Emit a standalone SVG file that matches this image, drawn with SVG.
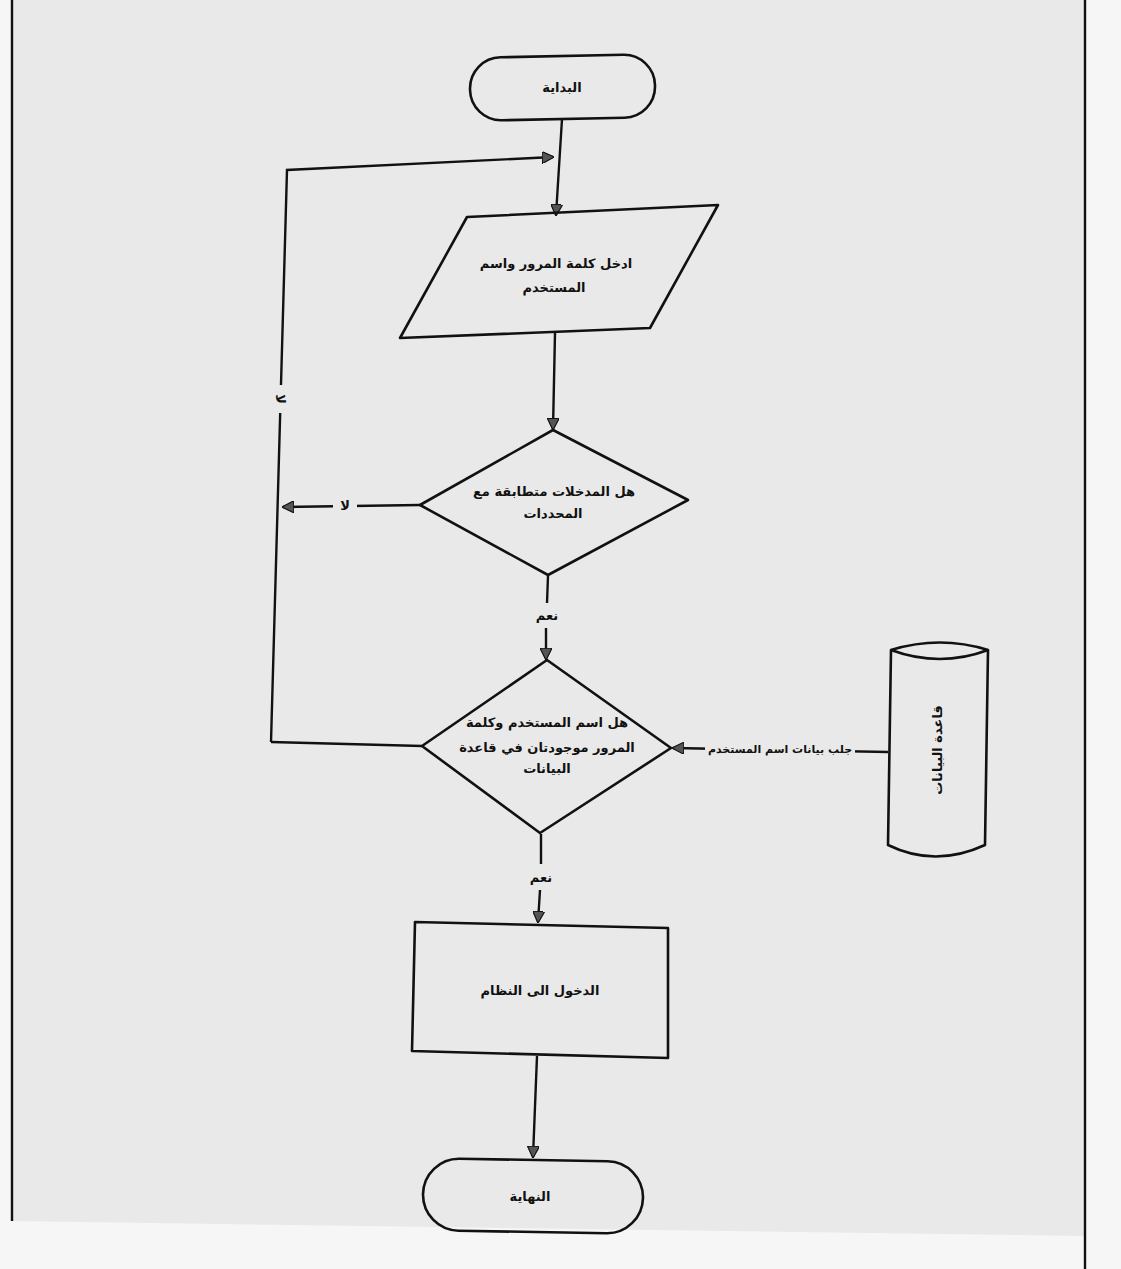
<svg xmlns="http://www.w3.org/2000/svg" width="1121" height="1269" viewBox="0 0 1121 1269">
<style>
.shape{fill:none;stroke:#111;stroke-width:2.6;stroke-linejoin:round}
.conn{fill:none;stroke:#111;stroke-width:2.4}
.t{font-family:"DejaVu Sans",sans-serif;font-weight:bold;font-size:13px;fill:#111;text-anchor:middle;direction:rtl}
</style>
<defs>
<marker id="ah" viewBox="0 0 10 10" refX="9" refY="5" markerWidth="5" markerHeight="5" orient="auto" markerUnits="strokeWidth">
<path d="M0,0 L10,5 L0,10 z" fill="#555" stroke="#111" stroke-width="1"/>
</marker>
</defs>
<rect x="0" y="0" width="1121" height="1269" fill="#f6f6f6"/>
<polygon points="12,0 1085,0 1085,1236 12,1221" fill="#e9e9e9"/>
<line x1="12" y1="0" x2="12" y2="1221" stroke="#111" stroke-width="2.4"/>
<line x1="1085" y1="0" x2="1085" y2="1269" stroke="#111" stroke-width="2.4"/>

<g id="connectors">
<line class="conn" x1="562" y1="119" x2="556" y2="215" marker-end="url(#ah)"/>
<polyline class="conn" points="271,742 287,170 553,157" marker-end="url(#ah)"/>
<line class="conn" x1="555" y1="333" x2="553" y2="429" marker-end="url(#ah)"/>
<line class="conn" x1="420" y1="505" x2="283" y2="507" marker-end="url(#ah)"/>
<line class="conn" x1="548" y1="576" x2="547" y2="603"/>
<line class="conn" x1="546" y1="628" x2="546" y2="659" marker-end="url(#ah)"/>
<line class="conn" x1="422" y1="746" x2="271" y2="742"/>
<line class="conn" x1="888" y1="752" x2="673" y2="748" marker-end="url(#ah)"/>
<line class="conn" x1="541" y1="834" x2="541" y2="864"/>
<line class="conn" x1="540" y1="890" x2="538" y2="922" marker-end="url(#ah)"/>
<line class="conn" x1="537" y1="1056" x2="533" y2="1157" marker-end="url(#ah)"/>
<rect x="270" y="385" width="20" height="28" fill="#e9e9e9"/>
<text class="t" transform="translate(281,399) rotate(90)" dy="5">لا</text>
<rect x="333" y="497" width="24" height="18" fill="#e9e9e9"/>
<text class="t" x="345" y="510">لا</text>
<text class="t" x="547" y="620">نعم</text>
<text class="t" x="541" y="882">نعم</text>
<rect x="705" y="740" width="150" height="16" fill="#e9e9e9"/>
<text class="t" x="780" y="753" style="font-size:11px">جلب بيانات اسم المستخدم</text>
</g>

<g id="start">
<rect class="shape" x="470" y="56" width="185" height="63" rx="31" transform="rotate(-1.2 562 87)"/>
<text class="t" x="562" y="92">البداية</text>
</g>

<g id="input">
<polygon class="shape" points="467,217 718,205 650,328 400,338"/>
<text class="t" x="556" y="268">ادخل كلمة المرور واسم</text>
<text class="t" x="554" y="292">المستخدم</text>
</g>

<g id="decision1">
<polygon class="shape" points="553,430 688,500 548,575 420,505"/>
<text class="t" x="554" y="496">هل المدخلات متطابقة مع</text>
<text class="t" x="553" y="518">المحددات</text>
</g>

<g id="decision2">
<polygon class="shape" points="547,660 671,748 540,833 422,746"/>
<text class="t" x="547" y="727">هل اسم المستخدم وكلمة</text>
<text class="t" x="547" y="752">المرور موجودتان في قاعدة</text>
<text class="t" x="547" y="773">البيانات</text>
</g>

<g id="database">
<path class="shape" d="M891,650 Q940,635 988,650 L985,845 Q935,868 888,845 Z"/>
<path class="shape" d="M891,650 Q940,668 988,650"/>
<text class="t" transform="translate(937,750) rotate(-90)" dy="5">قاعدة البيانات</text>
</g>

<g id="login">
<polygon class="shape" points="415,922 668,928 668,1058 412,1051"/>
<text class="t" x="540" y="995">الدخول الى النظام</text>
</g>

<g id="end">
<rect class="shape" x="423" y="1160" width="220" height="72" rx="36" transform="rotate(1 533 1196)"/>
<text class="t" x="530" y="1201">النهاية</text>
</g>
</svg>
